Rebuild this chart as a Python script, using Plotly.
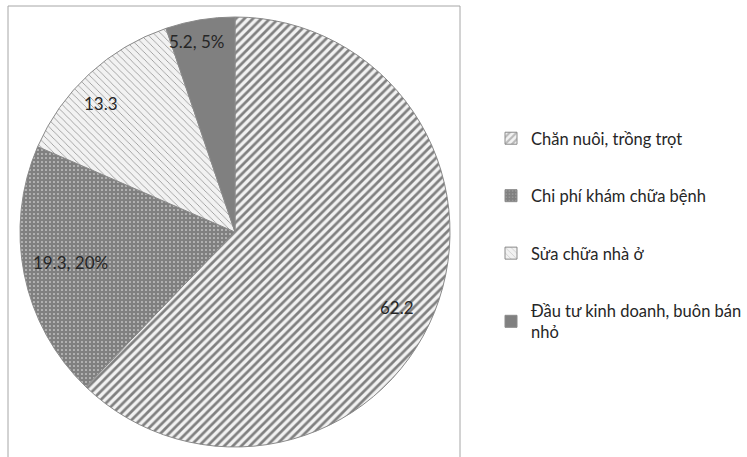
import math
import plotly.graph_objects as go

labels = ["Chăn nuôi, trồng trọt", "Chi phí khám chữa bệnh", "Sửa chữa nhà ở",
          "Đầu tư kinh doanh, buôn bán<br>nhỏ"]
values = [62.2, 19.3, 13.3, 5.2]
slice_text = ["62.2", "19.3, 20%", "13.3", "5.2, 5%"]

# styling
bg_colors = ["#f2f2f2", "#808080", "#f2f2f2", "#808080"]
fg_colors = ["#808080", "#f4f4f4", "#8c8c8c", "#808080"]
shapes_pat = ["/", ".", "\\", ""]
sizes_pat = [6, 4, 5, 6]
solid_pat = [0.45, 0.12, 0.15, 0.5]
label_rfrac = [0.83, 0.78, 0.865, 0.905]
label_dang = [3, 1, -3.5, -2]

FONT = "Lato, Open Sans, sans-serif"
W, H = 747, 457
dom_x = [20 / W, 450 / W]
dom_y = [10 / H, 440 / H]

fig = go.Figure()
fig.add_trace(go.Pie(
    values=values,
    labels=labels,
    textinfo="none",
    sort=False,
    direction="clockwise",
    rotation=0,
    showlegend=False,
    marker=dict(
        colors=bg_colors,
        line=dict(color="#8a8a8a", width=1),
        pattern=dict(shape=shapes_pat, fgcolor=fg_colors, bgcolor=bg_colors,
                     size=sizes_pat, solidity=solid_pat, fillmode="replace"),
    ),
    domain=dict(x=dom_x, y=dom_y),
    hoverinfo="label+value",
))

# slice labels placed from the data's cumulative angles
total = sum(values)
cx_px = (dom_x[0] + dom_x[1]) / 2 * W
cy_px = (dom_y[0] + dom_y[1]) / 2 * H
R = (dom_x[1] - dom_x[0]) * W / 2
cum = 0.0
for v, t, rf, da in zip(values, slice_text, label_rfrac, label_dang):
    mid = (cum + v / 2) / total * 360 + da
    cum += v
    a = math.radians(mid)
    px = cx_px + rf * R * math.sin(a)
    py = cy_px + rf * R * math.cos(a)
    fig.add_annotation(x=px / W, y=py / H, xref="paper", yref="paper", text=t,
                       xanchor="center", yanchor="middle", showarrow=False,
                       font=dict(family=FONT, size=17, color="#262626"))

for i, lab in enumerate(labels):
    fig.add_trace(go.Bar(
        x=[None], y=[None], name=lab, legendgroup=f"g{i}",
        marker=dict(color=bg_colors[i], line=dict(color="#8a8a8a", width=1),
                    pattern=dict(shape=shapes_pat[i], fgcolor=fg_colors[i],
                                 bgcolor=bg_colors[i], size=sizes_pat[i],
                                 solidity=solid_pat[i])),
        showlegend=True,
    ))

fig.update_layout(
    width=W, height=H,
    margin=dict(l=0, r=0, t=0, b=0),
    paper_bgcolor="white", plot_bgcolor="white",
    xaxis=dict(visible=False), yaxis=dict(visible=False),
    legend=dict(x=491 / W, y=1 - 121 / H, xanchor="left", yanchor="top",
                font=dict(family=FONT, size=16.5, color="#262626"),
                tracegroupgap=33, itemwidth=30, bgcolor="rgba(0,0,0,0)"),
    shapes=[
        dict(type="line", xref="paper", yref="paper", x0=8 / W, x1=8 / W,
             y0=-0.05, y1=1 - 6 / H, line=dict(color="#a6a6a6", width=1)),
        dict(type="line", xref="paper", yref="paper", x0=8 / W, x1=460 / W,
             y0=1 - 6 / H, y1=1 - 6 / H, line=dict(color="#a6a6a6", width=1)),
        dict(type="line", xref="paper", yref="paper", x0=460 / W, x1=460 / W,
             y0=-0.05, y1=1 - 6 / H, line=dict(color="#a6a6a6", width=1)),
    ],
)

fig.write_html("out.html")
